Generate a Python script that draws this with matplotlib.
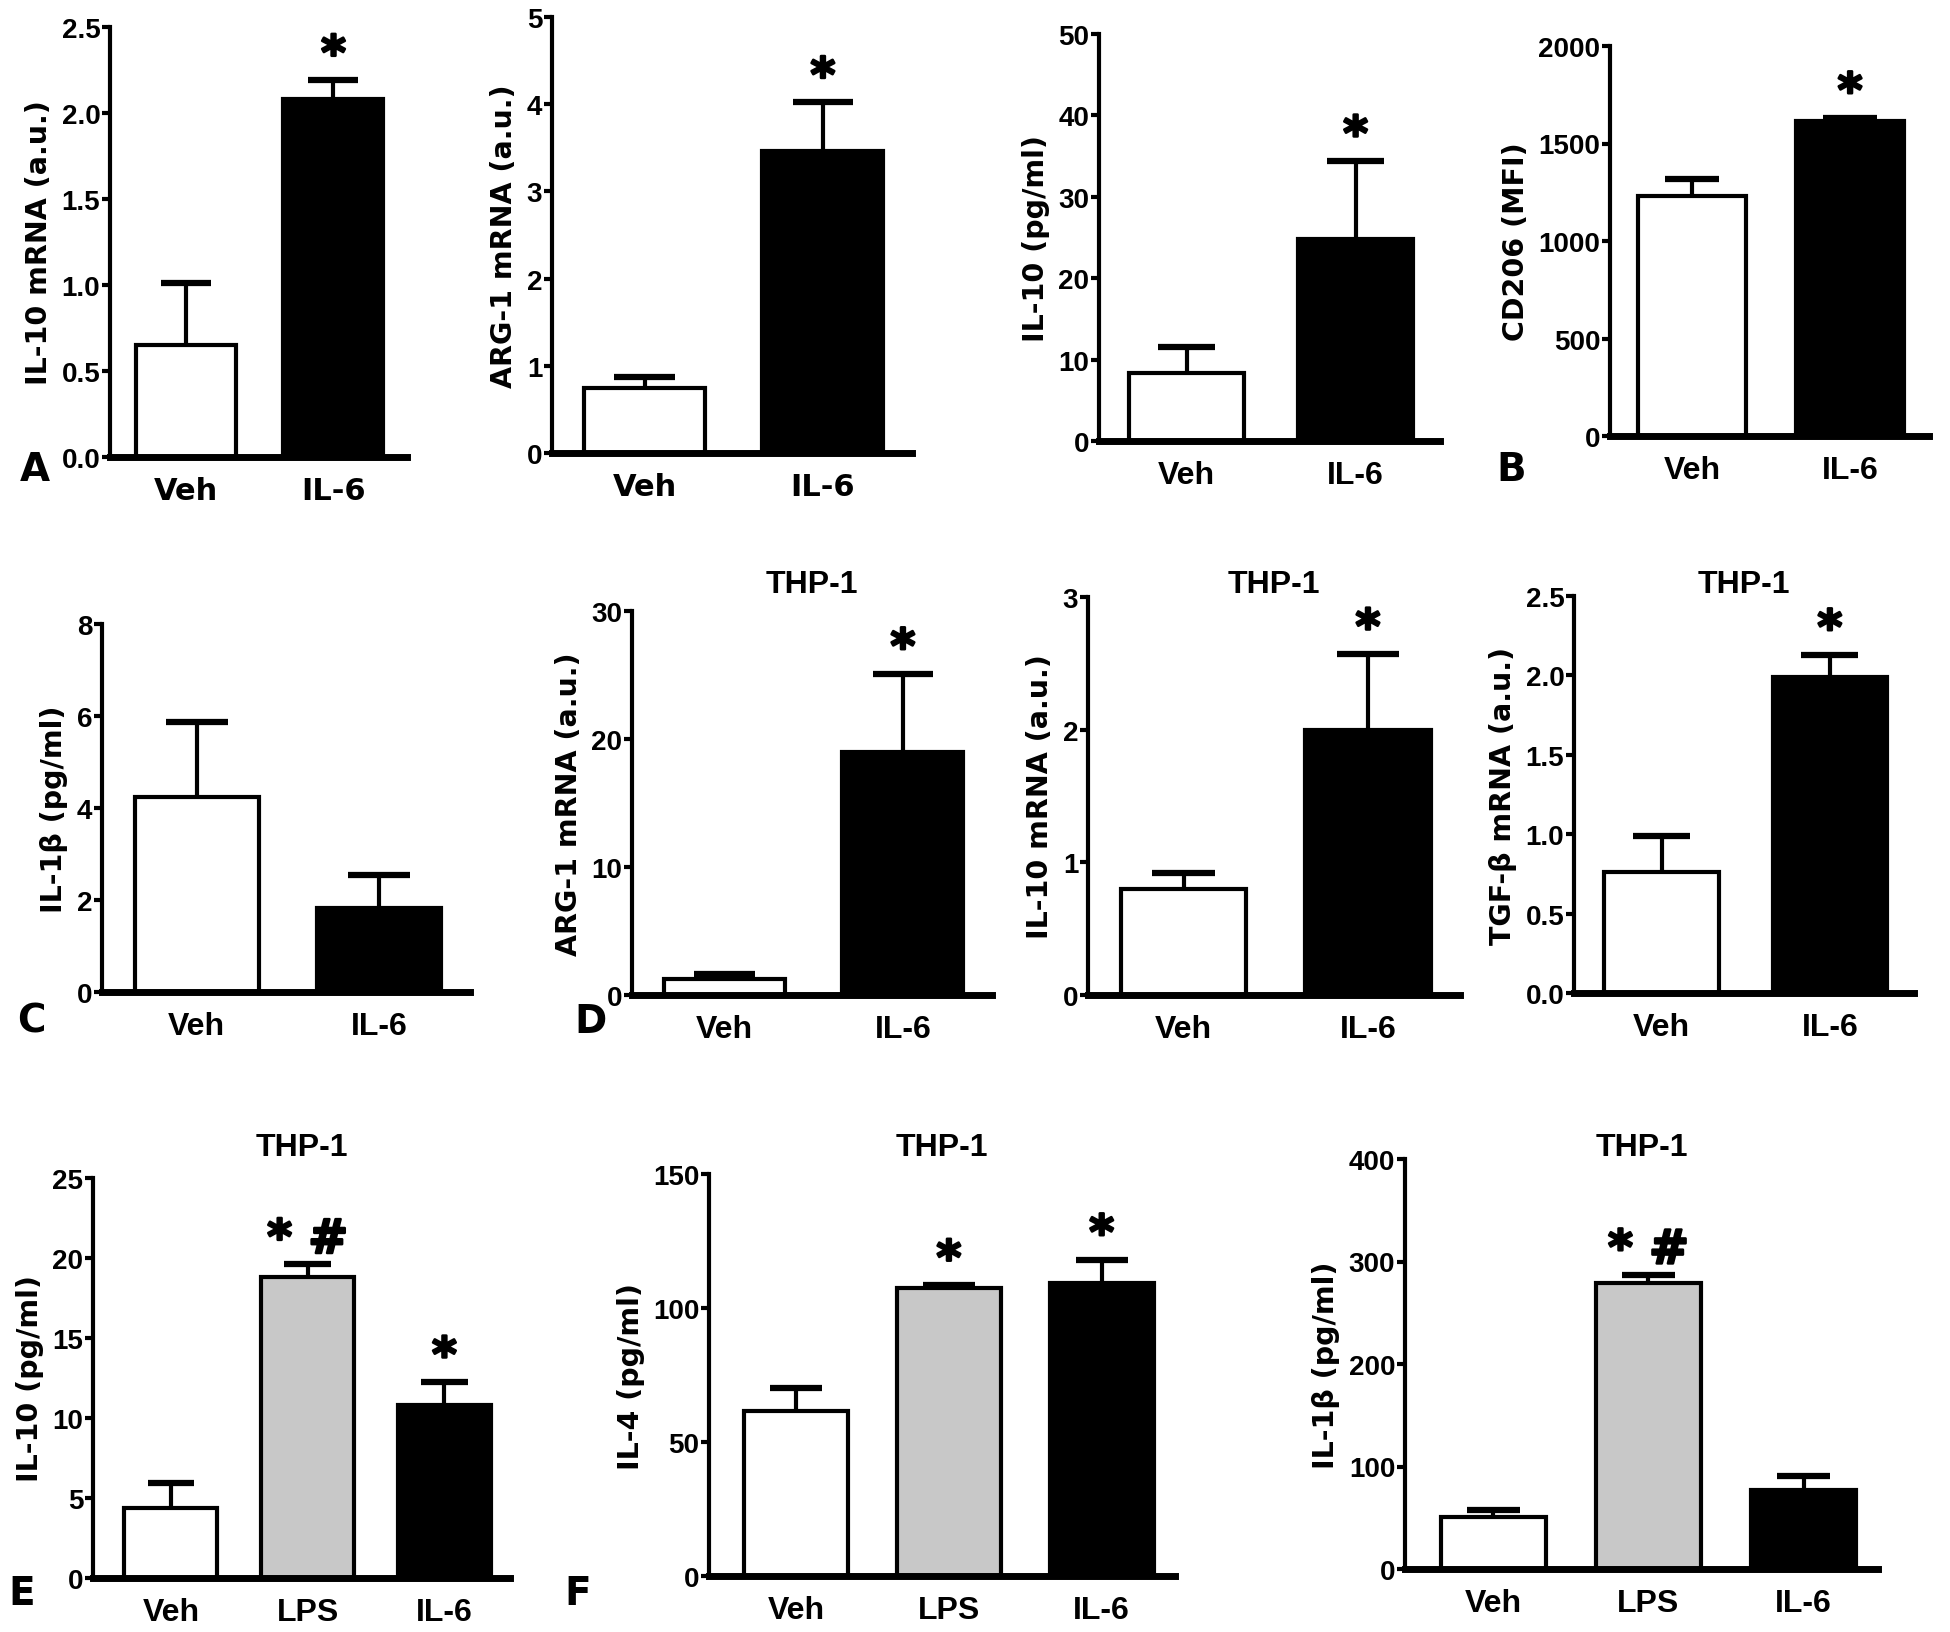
import matplotlib
matplotlib.use("Agg")
import matplotlib.pyplot as plt
import matplotlib.patheffects as pe

W, H = 1950, 1633

groups2 = ["Veh", "IL-6"]
groups3 = ["Veh", "LPS", "IL-6"]

# row 1 (mean, upper error)
il10_mrna_mean = [0.65, 2.08]
il10_mrna_err = [0.36, 0.11]
arg1_mrna_mean = [0.75, 3.46]
arg1_mrna_err = [0.12, 0.56]
il10_pg_mean = [8.3, 24.8]
il10_pg_err = [3.3, 9.6]
cd206_mean = [1231, 1615]
cd206_err = [85, 17]

# row 2
il1b_pg_mean = [4.24, 1.83]
il1b_pg_err = [1.64, 0.71]
thp_arg1_mean = [1.25, 19.0]
thp_arg1_err = [0.40, 6.1]
thp_il10_mrna_mean = [0.80, 2.00]
thp_il10_mrna_err = [0.12, 0.57]
thp_tgfb_mean = [0.76, 1.99]
thp_tgfb_err = [0.23, 0.14]

# row 3
thp_il10_pg_mean = [4.4, 18.8, 10.8]
thp_il10_pg_err = [1.55, 0.8, 1.45]
thp_il4_mean = [61.7, 107.4, 109.4]
thp_il4_err = [8.6, 1.1, 8.6]
thp_il1b_mean = [51, 279, 77]
thp_il1b_err = [7, 8, 14]

colors2 = ["white", "black"]
colors3 = ["white", "#c8c8c8", "black"]

WIDE = ["DejaVu Sans"]
NARROW = ["Liberation Sans Narrow", "Liberation Sans", "DejaVu Sans"]

# box = (left, right, top, bottom) in pixels; title y in pixels
panels = [
    dict(box=(110, 407, 28, 458), mean=il10_mrna_mean, err=il10_mrna_err,
         ylabel="IL-10 mRNA (a.u.)", ticks=[0, 0.5, 1.0, 1.5, 2.0, 2.5], fmt="{:.1f}",
         marks=["", "*"], title=None, letter=("A", 35, 470), xfont=WIDE),
    dict(box=(552, 912, 18, 454), mean=arg1_mrna_mean, err=arg1_mrna_err,
         ylabel="ARG-1 mRNA (a.u.)", ticks=[0, 1, 2, 3, 4, 5], fmt="{:.0f}",
         marks=["", "*"], title=None, letter=None, xfont=WIDE),
    dict(box=(1099, 1440, 35, 442), mean=il10_pg_mean, err=il10_pg_err,
         ylabel="IL-10 (pg/ml)", ticks=[0, 10, 20, 30, 40, 50], fmt="{:.0f}",
         marks=["", "*"], title=None, letter=None, xfont=NARROW),
    dict(box=(1610, 1929, 47, 437), mean=cd206_mean, err=cd206_err,
         ylabel="CD206 (MFI)", ticks=[0, 500, 1000, 1500, 2000], fmt="{:.0f}",
         marks=["", "*"], title=None, letter=("B", 1511, 470), xfont=NARROW),
    dict(box=(102, 470, 625, 993), mean=il1b_pg_mean, err=il1b_pg_err,
         ylabel="IL-1β (pg/ml)", ticks=[0, 2, 4, 6, 8], fmt="{:.0f}",
         marks=["", ""], title=None, letter=("C", 31, 1022), xfont=NARROW),
    dict(box=(632, 992, 612, 996), mean=thp_arg1_mean, err=thp_arg1_err,
         ylabel="ARG-1 mRNA (a.u.)", ticks=[0, 10, 20, 30], fmt="{:.0f}",
         marks=["", "*"], title=("THP-1", 585), letter=("D", 591, 1022), xfont=NARROW),
    dict(box=(1088, 1460, 598, 996), mean=thp_il10_mrna_mean, err=thp_il10_mrna_err,
         ylabel="IL-10 mRNA (a.u.)", ticks=[0, 1, 2, 3], fmt="{:.0f}",
         marks=["", "*"], title=("THP-1", 585), letter=None, xfont=NARROW),
    dict(box=(1574, 1914, 597, 994), mean=thp_tgfb_mean, err=thp_tgfb_err,
         ylabel="TGF-β mRNA (a.u.)", ticks=[0, 0.5, 1.0, 1.5, 2.0, 2.5], fmt="{:.1f}",
         marks=["", "*"], title=("THP-1", 585), letter=None, xfont=NARROW),
    dict(box=(93, 510, 1179, 1579), mean=thp_il10_pg_mean, err=thp_il10_pg_err,
         ylabel="IL-10 (pg/ml)", ticks=[0, 5, 10, 15, 20, 25], fmt="{:.0f}",
         marks=["", "*#", "*"], title=("THP-1", 1148), letter=("E", 22, 1594), xfont=NARROW),
    dict(box=(709, 1175, 1175, 1577), mean=thp_il4_mean, err=thp_il4_err,
         ylabel="IL-4 (pg/ml)", ticks=[0, 50, 100, 150], fmt="{:.0f}",
         marks=["", "*", "*"], title=("THP-1", 1148), letter=("F", 578, 1594), xfont=NARROW),
    dict(box=(1405, 1878, 1160, 1570), mean=thp_il1b_mean, err=thp_il1b_err,
         ylabel="IL-1β (pg/ml)", ticks=[0, 100, 200, 300, 400], fmt="{:.0f}",
         marks=["", "*#", ""], title=("THP-1", 1148), letter=None, xfont=NARROW),
]

fig = plt.figure(figsize=(W / 100, H / 100), dpi=100)
thick = [pe.withStroke(linewidth=1.8, foreground="black")]

for p in panels:
    L, R, T, B = p["box"]
    ax = fig.add_axes([L / W, 1 - B / H, (R - L) / W, (B - T) / H])
    n = len(p["mean"])
    names = groups2 if n == 2 else groups3
    cols = colors2 if n == 2 else colors3
    xs = list(range(n))
    bw = 0.68

    # upper error bars only, drawn behind the bars
    for x, m, e in zip(xs, p["mean"], p["err"]):
        ax.vlines(x, m, m + e, color="black", lw=3, zorder=1)
        ax.hlines(m + e, x - 0.17, x + 0.17, color="black", lw=4.5, zorder=1)
    ax.bar(xs, p["mean"], width=bw, color=cols, edgecolor="black", linewidth=3, zorder=2)

    ymax = p["ticks"][-1]
    for x, m, e, mk in zip(xs, p["mean"], p["err"], p["marks"]):
        if mk:
            txt = " ".join(mk) if len(mk) > 1 else mk
            ax.annotate(txt, (x, m + e), xytext=(0, 1), textcoords="offset points",
                        ha="center", va="bottom", fontsize=34, fontweight="bold",
                        family=WIDE, path_effects=thick)

    ax.set_ylim(0, ymax)
    if n == 2:
        ax.set_xlim(-0.52, 1.5)
    else:
        ax.set_xlim(-0.57, 2.48)
    ax.spines["top"].set_visible(False)
    ax.spines["right"].set_visible(False)
    ax.spines["left"].set_linewidth(3)
    ax.spines["bottom"].set_linewidth(5)
    ax.spines["bottom"].set_zorder(3)
    ax.patch.set_alpha(0)

    ax.set_yticks(p["ticks"])
    ax.set_yticklabels([p["fmt"].format(t) for t in p["ticks"]],
                       fontsize=20, fontweight="bold", family=NARROW)
    ax.tick_params(axis="y", length=6, width=3, pad=1)
    ax.set_xticks(xs)
    ax.set_xticklabels(names, fontsize=23 if p["xfont"] is NARROW else 22,
                       fontweight="bold", family=p["xfont"])
    ax.tick_params(axis="x", length=0, pad=14)
    ax.set_ylabel(p["ylabel"], fontsize=20.5, fontweight="bold", family=WIDE, labelpad=6)

    if p["title"]:
        tt, ty = p["title"]
        fig.text((L + R) / 2 / W, 1 - ty / H, tt, ha="center", va="center",
                 fontsize=23, fontweight="bold", family=NARROW)
    if p["letter"]:
        lt, lx, ly = p["letter"]
        fig.text(lx / W, 1 - ly / H, lt, ha="center", va="center",
                 fontsize=28, fontweight="bold", family=WIDE)

fig.savefig("out.png", dpi=100, facecolor="white")
